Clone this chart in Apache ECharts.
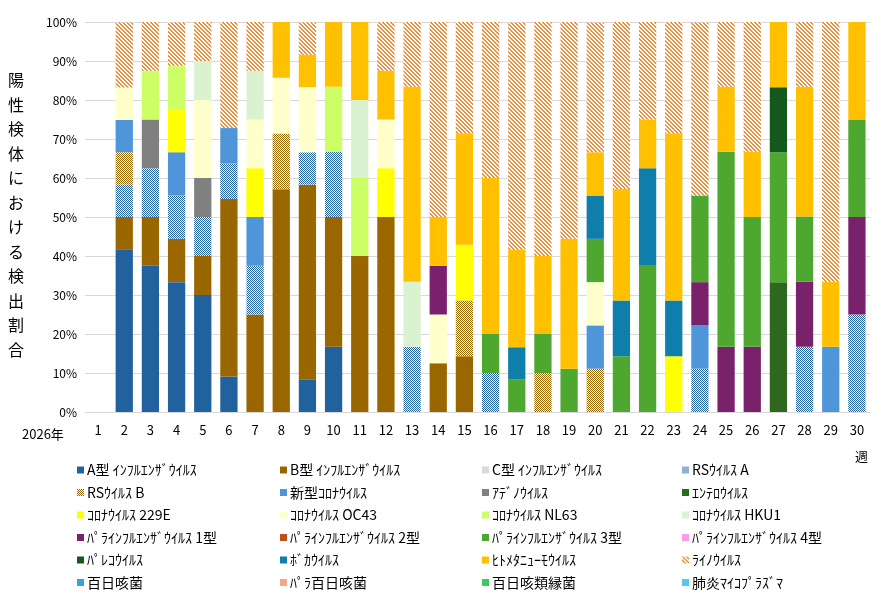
<!DOCTYPE html>
<html>
<head>
<meta charset="utf-8">
<script src="https://cdn.jsdelivr.net/npm/echarts@6/dist/echarts.min.js"></script>
<style>html,body{margin:0;padding:0;background:#fff}#main{width:883px;height:612px}</style>
</head>
<body>
<div id="main"></div>
<script>
var weeks = [];
for (var w = 1; w <= 30; w++) weeks.push(String(w));

// percentages per week (weeks 1..30)
var fluA   = [0,41.7,37.5,33.3,30,9.1,0,0,8.3,16.7,0,0,0,0,0,0,0,0,0,0,0,0,0,0,0,0,0,0,0,0];
var fluB   = [0,8.3,12.5,11.1,10,45.5,25,57.1,50,33.3,40,50,0,12.5,14.3,0,0,0,0,0,0,0,0,0,0,0,0,0,0,0];
var fluC   = [0,0,0,0,0,0,0,0,0,0,0,0,0,0,0,0,0,0,0,0,0,0,0,0,0,0,0,0,0,0];
var rsA    = [0,8.3,12.5,11.1,10,9.1,12.5,0,8.3,16.7,0,0,16.7,0,0,10,0,0,0,0,0,0,0,11.1,0,0,0,16.7,0,25];
var rsB    = [0,8.3,0,0,0,0,0,14.3,0,0,0,0,0,0,14.3,0,0,10,0,11.1,0,0,0,0,0,0,0,0,0,0];
var cov19  = [0,8.3,0,11.1,0,9.1,12.5,0,0,0,0,0,0,0,0,0,0,0,0,11.1,0,0,0,11.1,0,0,0,0,16.7,0];
var adeno  = [0,0,12.5,0,10,0,0,0,0,0,0,0,0,0,0,0,0,0,0,0,0,0,0,0,0,0,0,0,0,0];
var entero = [0,0,0,0,0,0,0,0,0,0,0,0,0,0,0,0,0,0,0,0,0,0,0,0,0,0,33.3,0,0,0];
var c229E  = [0,0,0,11.1,0,0,12.5,0,0,0,0,12.5,0,0,14.3,0,0,0,0,0,0,0,14.3,0,0,0,0,0,0,0];
var cOC43  = [0,8.3,0,0,20,0,12.5,14.3,16.7,0,0,12.5,0,12.5,0,0,0,0,0,11.1,0,0,0,0,0,0,0,0,0,0];
var cNL63  = [0,0,12.5,11.1,0,0,0,0,0,16.7,20,0,0,0,0,0,0,0,0,0,0,0,0,0,0,0,0,0,0,0];
var cHKU1  = [0,0,0,0,10,0,12.5,0,0,0,20,0,16.7,0,0,0,0,0,0,0,0,0,0,0,0,0,0,0,0,0];
var para1  = [0,0,0,0,0,0,0,0,0,0,0,0,0,12.5,0,0,0,0,0,0,0,0,0,11.1,16.7,16.7,0,16.7,0,25];
var para2  = [0,0,0,0,0,0,0,0,0,0,0,0,0,0,0,0,0,0,0,0,0,0,0,0,0,0,0,0,0,0];
var para3  = [0,0,0,0,0,0,0,0,0,0,0,0,0,0,0,10,8.3,10,11.1,11.1,14.3,37.5,0,22.2,50,33.3,33.3,16.7,0,25];
var para4  = [0,0,0,0,0,0,0,0,0,0,0,0,0,0,0,0,0,0,0,0,0,0,0,0,0,0,0,0,0,0];
var pareco = [0,0,0,0,0,0,0,0,0,0,0,0,0,0,0,0,0,0,0,0,0,0,0,0,0,0,16.7,0,0,0];
var boca   = [0,0,0,0,0,0,0,0,0,0,0,0,0,0,0,0,8.3,0,0,11.1,14.3,25,14.3,0,0,0,0,0,0,0];
var hmpv   = [0,0,0,0,0,0,0,14.3,8.3,16.7,20,12.5,50,12.5,28.6,40,25,20,33.3,11.1,28.6,12.5,42.9,0,16.7,16.7,16.7,33.3,16.7,25];
var rhino  = [0,16.7,12.5,11.1,10,27.3,12.5,0,8.3,0,0,12.5,16.7,50,28.6,40,58.3,60,55.6,33.3,42.9,25,28.6,44.4,16.7,33.3,0,16.7,66.7,0];
var pert   = [0,0,0,0,0,0,0,0,0,0,0,0,0,0,0,0,0,0,0,0,0,0,0,0,0,0,0,0,0,0];
var parapert = [0,0,0,0,0,0,0,0,0,0,0,0,0,0,0,0,0,0,0,0,0,0,0,0,0,0,0,0,0,0];
var bordet = [0,0,0,0,0,0,0,0,0,0,0,0,0,0,0,0,0,0,0,0,0,0,0,0,0,0,0,0,0,0];
var myco   = [0,0,0,0,0,0,0,0,0,0,0,0,0,0,0,0,0,0,0,0,0,0,0,0,0,0,0,0,0,0];

var yTicks = ['0%','10%','20%','30%','40%','50%','60%','70%','80%','90%','100%'];

function checker(c) {
  var cv = document.createElement('canvas');
  cv.width = 2; cv.height = 2;
  var g = cv.getContext('2d');
  g.fillStyle = '#fff'; g.fillRect(0, 0, 2, 2);
  g.fillStyle = c; g.fillRect(0, 0, 1, 1); g.fillRect(1, 1, 1, 1);
  return {image: cv, repeat: 'repeat'};
}
function stripes(c) {
  var cv = document.createElement('canvas');
  cv.width = 4; cv.height = 4;
  var g = cv.getContext('2d');
  g.fillStyle = '#fff'; g.fillRect(0, 0, 4, 4);
  g.fillStyle = c;
  for (var i = 0; i < 4; i++) {
    g.fillRect(i, i, 1, 1);
    g.fillRect((i + 1) % 4, i, 1, 1);
  }
  return {image: cv, repeat: 'repeat'};
}

var defs = [
  ['A型 ｲﾝﾌﾙｴﾝｻﾞｳｲﾙｽ', fluA, '#21629E'],
  ['B型 ｲﾝﾌﾙｴﾝｻﾞｳｲﾙｽ', fluB, '#996600'],
  ['C型 ｲﾝﾌﾙｴﾝｻﾞｳｲﾙｽ', fluC, '#D9D9D9'],
  ['RSｳｲﾙｽ A', rsA, checker('#21629E')],
  ['RSｳｲﾙｽ B', rsB, checker('#996600')],
  ['新型ｺﾛﾅｳｲﾙｽ', cov19, '#4F95D9'],
  ['ｱﾃﾞﾉｳｲﾙｽ', adeno, '#808080'],
  ['ｴﾝﾃﾛｳｲﾙｽ', entero, '#2E671E'],
  ['ｺﾛﾅｳｲﾙｽ 229E', c229E, '#FFFF00'],
  ['ｺﾛﾅｳｲﾙｽ OC43', cOC43, '#FFFFCC'],
  ['ｺﾛﾅｳｲﾙｽ NL63', cNL63, '#CCFF66'],
  ['ｺﾛﾅｳｲﾙｽ HKU1', cHKU1, '#DAF2D0'],
  ['ﾊﾟﾗｲﾝﾌﾙｴﾝｻﾞｳｲﾙｽ 1型', para1, '#7A216B'],
  ['ﾊﾟﾗｲﾝﾌﾙｴﾝｻﾞｳｲﾙｽ 2型', para2, '#C0501A'],
  ['ﾊﾟﾗｲﾝﾌﾙｴﾝｻﾞｳｲﾙｽ 3型', para3, '#4EA72E'],
  ['ﾊﾟﾗｲﾝﾌﾙｴﾝｻﾞｳｲﾙｽ 4型', para4, '#F79BEE'],
  ['ﾊﾟﾚｺｳｲﾙｽ', pareco, '#14581E'],
  ['ﾎﾞｶｳｲﾙｽ', boca, '#0E7FAB'],
  ['ﾋﾄﾒﾀﾆｭｰﾓｳｲﾙｽ', hmpv, '#FFC000'],
  ['ﾗｲﾉｳｲﾙｽ', rhino, stripes('#F08C3A')],
  ['百日咳菌', pert, '#3AA0E0'],
  ['ﾊﾟﾗ百日咳菌', parapert, '#F2A98A'],
  ['百日咳類縁菌', bordet, '#40C860'],
  ['肺炎ﾏｲｺﾌﾟﾗｽﾞﾏ', myco, '#5BC4F5']
];

var series = defs.map(function(d) {
  return {
    name: d[0], type: 'bar', stack: 'all', barWidth: '66%',
    itemStyle: {color: d[2]},
    data: d[1]
  };
});

var font = '"Noto Sans CJK JP", sans-serif';
var legends = [0, 1, 2, 3].map(function(c) {
  var names = [];
  for (var r = 0; r < 6; r++) names.push(defs[r * 4 + c][0]);
  return {
    orient: 'vertical', left: [72, 275, 477, 677][c], top: 458,
    itemWidth: 7, itemHeight: 7, itemGap: 8.5, icon: 'rect',
    selectedMode: false, data: names,
    textStyle: {fontFamily: font, fontSize: 14, color: '#000', padding: [0, 0, 0, -2]}
  };
});

var chart = echarts.init(document.getElementById('main'));
chart.setOption({
  animation: false,
  textStyle: {fontFamily: font},
  grid: {left: 85, right: 13, top: 22, bottom: 200},
  legend: legends,
  xAxis: {
    type: 'category', data: weeks,
    axisTick: {show: false},
    axisLine: {lineStyle: {color: '#D9D9D9'}},
    axisLabel: {color: '#000', fontSize: 13, margin: 12}
  },
  yAxis: {
    type: 'value', min: 0, max: 100, interval: 10,
    axisLabel: {color: '#000', fontSize: 12, formatter: function(v) { return yTicks[Math.round(v / 10)]; }},
    splitLine: {lineStyle: {color: '#D9D9D9'}}
  },
  graphic: [
    {type: 'text', left: 8, top: 68, style: {text: '陽\n性\n検\n体\nに\nお\nけ\nる\n検\n出\n割\n合', fontSize: 16, lineHeight: 24.5, fill: '#000', fontFamily: font}},
    {type: 'text', left: 22, top: 428, style: {text: '2026年', fontSize: 13, fill: '#000', fontFamily: font}},
    {type: 'text', left: 855, top: 450, style: {text: '週', fontSize: 13, fill: '#000', fontFamily: font}}
  ],
  series: series
});
</script>
</body>
</html>
